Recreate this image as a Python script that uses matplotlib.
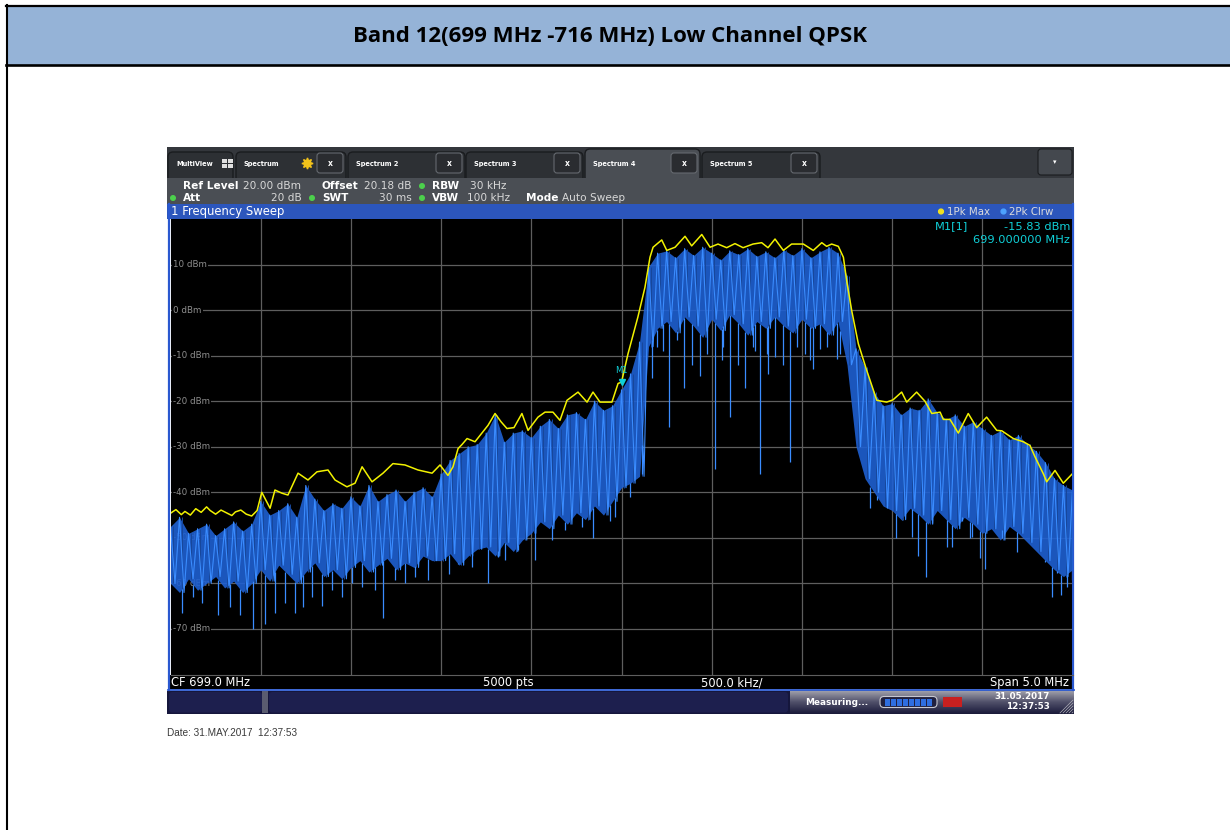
import matplotlib
matplotlib.use("Agg")
import matplotlib.pyplot as plt
from matplotlib.patches import Rectangle, FancyBboxPatch, Circle
import numpy as np

W, H = 1230, 830

# ---------------------------------------------------------------- data
title = "Band 12(699 MHz -716 MHz) Low Channel QPSK"
cf_mhz, span_mhz = 699.0, 5.0
ref_level, bottom_level = 20, -80
level_ticks = [10, 0, -10, -20, -30, -40, -50, -60, -70]
freq_ticks = [697.0, 697.5, 698.0, 698.5, 699.0, 699.5, 700.0, 700.5, 701.0]

marker_freq, marker_level = 699.0, -15.83

# trace 1: 1Pk Max (yellow)
max_freq = [696.50, 696.53, 696.56, 696.58, 696.61, 696.64, 696.67, 696.70, 696.72,
            696.75, 696.78, 696.81, 696.84, 696.86, 696.89, 696.92, 696.95, 696.98,
            697.006, 697.052, 697.079, 697.118, 697.151, 697.207, 697.262, 697.312,
            697.373, 697.412, 697.478, 697.523, 697.562, 697.617, 697.678, 697.733,
            697.800, 697.872, 697.950, 697.994, 698.038, 698.066, 698.094, 698.116,
            698.144, 698.188, 698.216, 698.260, 698.299, 698.332, 698.365, 698.404,
            698.448, 698.482, 698.537, 698.576, 698.620, 698.659, 698.698, 698.759,
            698.809, 698.842, 698.881, 698.947, 698.981, 699.000, 699.036, 699.091,
            699.130, 699.158, 699.175, 699.223, 699.251, 699.297, 699.352, 699.389,
            699.445, 699.491, 699.535, 699.583, 699.629, 699.674, 699.729, 699.777,
            699.812, 699.851, 699.897, 699.943, 700.008, 700.063, 700.110, 700.137,
            700.165, 700.202, 700.230, 700.248, 700.276, 700.313, 700.359, 700.415,
            700.470, 700.505, 700.553, 700.581, 700.636, 700.682, 700.720, 700.766,
            700.784, 700.821, 700.867, 700.922, 700.969, 701.024, 701.080, 701.108,
            701.172, 701.227, 701.264, 701.292, 701.338, 701.357, 701.403, 701.449,
            701.500]
max_level = [-44.6, -43.8, -44.9, -44.2, -45.0, -43.6, -44.4, -43.2, -44.0,
             -44.8, -43.9, -44.5, -45.1, -44.3, -43.9, -44.8, -45.2, -44.0,
             -40.0, -43.5, -39.5, -40.2, -40.6, -35.8, -37.3, -35.5,
             -35.1, -37.3, -38.8, -38.0, -34.4, -37.7, -35.8, -33.7,
             -34.0, -35.1, -35.8, -34.0, -36.3, -34.4, -30.4, -29.5,
             -28.2, -28.9, -27.5, -25.3, -22.7, -24.5, -26.0, -25.8,
             -22.7, -26.4, -23.5, -22.4, -22.4, -24.2, -19.8, -18.0,
             -20.2, -18.0, -20.2, -20.2, -16.1, -15.83, -9.6, -1.5,
             5.0, 11.6, 13.8, 15.4, 13.1, 13.8, 16.2, 14.1,
             16.6, 13.8, 14.5, 13.7, 14.6, 13.7, 14.5, 14.8,
             13.7, 15.6, 13.1, 14.5, 14.5, 13.1, 14.8, 14.0,
             14.5, 14.0, 11.6, 6.5, -0.1, -7.4, -13.2, -19.8,
             -20.2, -19.7, -18.0, -20.2, -18.0, -20.0, -22.7, -22.4,
             -24.0, -24.0, -27.0, -22.7, -25.8, -23.5, -26.4, -26.5,
             -28.2, -28.9, -29.7, -32.2, -35.9, -37.7, -35.2, -38.0,
             -35.9]

# trace 2: 2Pk Clrw (blue), upper / lower edge of the dense trace, every 50 kHz
clrw_hi = [-47.5, -45.5, -49.0, -48.0, -47.0, -49.5, -48.0, -46.5, -48.5, -47.0,
           -42.0, -45.0, -44.0, -42.5, -45.5, -38.5, -41.5, -44.0, -42.5, -43.5,
           -41.0, -43.0, -38.5, -42.0, -40.5, -39.5, -42.0, -40.0, -39.0, -41.0,
           -36.0, -33.0, -31.5, -30.0, -29.5, -27.0, -23.0, -29.0, -27.0, -26.5,
           -28.0, -25.5, -24.0, -26.0, -23.0, -22.5, -24.0, -20.0, -22.0, -21.0,
           -17.5, -14.0, -7.0, 9.5, 12.5, 13.0, 11.5, 13.5, 12.0, 13.8,
           12.5, 11.0, 13.0, 12.2, 13.5, 11.8, 12.8, 11.5, 13.2, 12.0,
           13.5, 11.5, 12.8, 13.8, 12.5, 7.5, -8.5, -12.5, -18.0, -21.0,
           -20.5, -23.0, -21.5, -22.0, -19.5, -22.5, -24.0, -23.0, -25.5, -24.5,
           -26.0, -27.5, -26.5, -28.5, -27.5, -29.5, -31.0, -33.5, -37.0, -38.5,
           -39.5]
clrw_lo = [-60.0, -62.0, -59.0, -61.5, -60.0, -58.5, -61.0, -59.5, -62.0, -60.0,
           -57.0, -59.5, -56.0, -58.0, -60.0, -57.5, -55.5, -58.5, -57.0, -59.0,
           -56.5, -55.0, -57.5, -56.0, -54.5, -57.0, -55.5, -56.5, -54.0, -55.0,
           -55.0, -53.5, -56.0, -54.0, -52.5, -52.0, -54.0, -51.0, -53.0, -50.5,
           -49.0, -46.5, -48.0, -45.0, -47.0, -44.5, -46.0, -43.0, -45.0, -42.0,
           -39.0, -38.0, -36.5, -8.0, -4.0, -2.5, -5.0, -1.5, -3.5, -6.0,
           -2.0, -4.5, -1.0, -3.0, -5.5, -2.5, -4.0, -1.5, -3.5, -5.0,
           -2.0, -4.0, -3.0, -5.5, -2.5, -12.0, -30.0, -37.0, -40.0, -43.0,
           -44.0, -46.0, -43.5, -45.0, -47.0, -44.0, -46.0, -48.0, -45.5, -47.0,
           -49.0, -48.0, -50.5, -47.5, -49.0, -51.0, -53.0, -55.0, -57.0, -58.5,
           -57.0]

# single drop-outs of the Clrw trace below its dense band
dip_freq = [696.564, 696.626, 696.673, 696.765, 696.830, 696.885, 696.959, 697.024,
            697.079, 697.135, 697.190, 697.236, 697.283, 697.340, 697.394, 697.449,
            697.504, 697.560, 697.634, 697.680, 697.744, 697.800, 697.855, 697.929,
            698.044, 698.095, 698.170, 698.260, 698.317, 698.354, 698.428, 698.521,
            698.613, 698.687, 698.779, 698.842, 698.909, 698.936, 698.964, 699.047,
            699.112, 699.169, 699.195, 699.230, 699.263, 699.306, 699.346, 699.391,
            699.435, 699.472, 699.518, 699.555, 699.563, 699.601, 699.646, 699.685,
            699.731, 699.740, 699.768, 699.805, 699.812, 699.851, 699.895, 699.934,
            699.973, 700.017, 700.045, 700.062, 700.100, 700.137, 700.194, 700.211,
            700.380, 700.415, 700.470, 700.519, 700.553, 700.609, 700.644, 700.688,
            700.720, 700.804, 700.830, 700.886, 700.932, 700.941, 700.987, 701.015,
            701.108, 701.191, 701.237, 701.292, 701.348, 701.385, 701.412, 701.435,
            701.468, 701.495]
dip_level = [-66.5, -62.9, -64.4, -67.0, -65.1, -67.0, -70.0, -69.0,
             -66.6, -64.4, -66.6, -65.1, -62.9, -65.0, -61.5, -62.9,
             -60.0, -60.7, -61.5, -67.5, -59.3, -60.0, -58.6, -59.3,
             -58.0, -55.6, -56.4, -60.0, -54.2, -54.9, -52.7, -54.9,
             -50.5, -48.3, -47.6, -50.0, -44.6, -46.3, -45.4, -41.0,
             -36.0, -15.0, -8.1, -9.0, -25.6, -6.6, -17.0, -12.0,
             -14.4, -9.6, -34.8, -11.0, -8.0, -23.5, -12.0, -17.2,
             -8.1, -9.0, -36.0, -9.6, -14.0, -10.3, -12.0, -33.3,
             -8.0, -9.6, -11.0, -13.0, -8.5, -8.1, -10.7, -9.6,
             -43.5, -41.7, -42.5, -50.0, -46.1, -49.8, -54.0, -58.6,
             -46.8, -52.0, -52.0, -45.4, -50.0, -49.8, -54.5, -56.8,
             -48.3, -53.0, -50.5, -52.7, -55.3, -63.0, -57.8, -62.5,
             -60.7, -59.3]

tabs = ["MultiView", "Spectrum", "Spectrum 2", "Spectrum 3", "Spectrum 4", "Spectrum 5"]
tab_edges = [(168, 233), (236, 346), (348, 465), (466, 583), (585, 700), (702, 820)]

# ---------------------------------------------------------------- colours
HEAD_BLUE = "#95b3d7"
TAB_BG, TAB_FILL, INFO_BG = "#34373c", "#2d3034", "#4a4e54"
BAR_BLUE, FRAME_BLUE = "#2c56bc", "#2a58d0"
GRID = "#5e5e5e"
YELLOW, BLUE_HI, BLUE_FILL, BLUE_DARK = "#f2f200", "#3a8cff", "#1f60d2", "#17479a"
CYAN = "#10d0d8"
NAVY = "#15163c"

fig = plt.figure(figsize=(W / 100, H / 100), dpi=100)
ui = fig.add_axes([0, 0, 1, 1])
ui.set_xlim(0, W)
ui.set_ylim(H, 0)
ui.axis("off")


def frac(x0, y0, x1, y1):
    return [x0 / W, 1 - y1 / H, (x1 - x0) / W, (y1 - y0) / H]


def rect(x0, y0, x1, y1, **kw):
    ui.add_patch(Rectangle((x0, y0), x1 - x0, y1 - y0, **kw))


def rbox(x0, y0, x1, y1, r=3, **kw):
    ui.add_patch(FancyBboxPatch((x0, y0), x1 - x0, y1 - y0,
                                boxstyle=f"round,pad=0,rounding_size={r}", **kw))


# ---------------------------------------------------------------- page / header
rect(6.5, 5.8, W + 2, 65, facecolor=HEAD_BLUE, edgecolor="none")
ui.plot([5.5, W], [5.8, 5.8], color="black", lw=1.6)
ui.plot([5.5, W], [65, 65], color="black", lw=1.9)
ui.plot([6.5, 6.5], [5, H], color="black", lw=1.5)
ui.text(610, 36.5, title, ha="center", va="center", fontsize=16,
        fontweight="bold", family="Open Sans", color="black")

# ---------------------------------------------------------------- tab bar
rect(167, 147, 1074, 178, facecolor=TAB_BG, edgecolor="none")
for i, (name, (x0, x1)) in enumerate(zip(tabs, tab_edges)):
    sel = name == "Spectrum 4"
    y0 = 149 if sel else 152
    rbox(x0, y0, x1, 182, r=5, facecolor=INFO_BG if sel else TAB_FILL,
         edgecolor="#1a1c1f", lw=1.0)
    ui.text(x0 + 8, 164, name, fontsize=4.8, fontweight="bold", color="white",
            va="center", ha="left")
    if i == 0:
        for dx in (0, 6):
            for dy in (0, 5):
                rect(222 + dx, 159 + dy, 227 + dx, 163 + dy, facecolor="#e0e0e0",
                     edgecolor="none")
    else:
        rbox(x1 - 29, 153, x1 - 3, 173, r=3, facecolor="#2a2c30",
             edgecolor="#65696f", lw=0.8)
        ui.text(x1 - 16, 163.5, "x", fontsize=5.5, fontweight="bold", color="white",
                ha="center", va="center")
    if name == "Spectrum":
        ui.plot(306.5, 163, marker=(8, 1, 0), ms=8, color="#f2c21a", mec="#f2c21a")
rect(167, 178, 1074, 204, facecolor=INFO_BG, edgecolor="none")
rbox(1038, 149, 1072, 175, r=3, facecolor="#44484e", edgecolor="#1a1c1f", lw=0.8)
ui.text(1055, 162, "\u25be", fontsize=5, color="white", ha="center", va="center")

# ---------------------------------------------------------------- settings text
bold = dict(fontsize=7.6, fontweight="bold", color="white", va="center")
value = dict(fontsize=7.6, color="#d8d8d8", va="center")
ui.text(183, 186, "Ref Level", **bold)
ui.text(243, 186, "20.00 dBm", **value)
ui.text(321, 186, "Offset", **bold)
ui.text(364, 186, "20.18 dB", **value)
ui.text(432, 186, "RBW", **bold)
ui.text(470, 186, "30 kHz", **value)
ui.text(183, 198, "Att", **bold)
ui.text(302, 198, "20 dB", ha="right", **value)
ui.text(322, 198, "SWT", **bold)
ui.text(412, 198, "30 ms", ha="right", **value)
ui.text(432, 198, "VBW", **bold)
ui.text(467, 198, "100 kHz", **value)
ui.text(526, 198, "Mode", **bold)
ui.text(562, 198, "Auto Sweep", **value)
for gx, gy in [(422, 186), (173, 198), (312, 198), (422, 198)]:
    ui.add_patch(Circle((gx, gy), 2.3, color="#4cd04c"))

# ---------------------------------------------------------------- sweep window
rect(167, 204, 1074, 218.5, facecolor=BAR_BLUE, edgecolor="none")
ui.text(171, 211.5, "1 Frequency Sweep", fontsize=8.4, color="white", va="center")
ui.add_patch(Circle((941, 211.5), 2.4, color="#f0e020"))
ui.text(947, 211.5, "1Pk Max", fontsize=7.4, color="#dcdcdc", va="center")
ui.add_patch(Circle((1003.5, 211.5), 2.4, color="#4da2ff"))
ui.text(1009, 211.5, "2Pk Clrw", fontsize=7.4, color="#dcdcdc", va="center")
rect(168, 675, 1073, 689, facecolor="black", edgecolor="none")
ui.plot([168.5, 168.5], [204, 690], color=FRAME_BLUE, lw=1.6)
ui.plot([1073, 1073], [204, 690], color=FRAME_BLUE, lw=1.6)
ui.plot([168, 1074], [689.5, 689.5], color=FRAME_BLUE, lw=1.3)
foot = dict(fontsize=8.3, color="white", va="center")
ui.text(171, 682.5, f"CF {cf_mhz:.1f} MHz", **foot)
ui.text(508, 682.5, "5000 pts", ha="center", **foot)
ui.text(732, 682.5, f"{(freq_ticks[1] - freq_ticks[0]) * 1000:.1f} kHz/",
        ha="center", **foot)
ui.text(1069, 682.5, f"Span {span_mhz:.1f} MHz", ha="right", **foot)

# ---------------------------------------------------------------- status bar
rect(167, 690.5, 1074, 714, facecolor=NAVY, edgecolor="none")
rbox(169, 692, 262, 712.5, r=3, facecolor="#1d1f4e", edgecolor="none")
rect(262, 691, 268, 713, facecolor="#5a5c70", edgecolor="none")
rbox(269, 692, 788, 712.5, r=3, facecolor="#1d1f4e", edgecolor="none")
grad = np.linspace(0, 1, 40)[:, None]
ui.imshow(grad, extent=(790, 1074, 714, 690.5), cmap=matplotlib.colors.LinearSegmentedColormap
          .from_list("bar", ["#a4a4ae", "#50506a", "#1a1a3a"]), aspect="auto", zorder=1)
ui.text(805, 702, "Measuring...", fontsize=6.4, fontweight="bold", color="white",
        va="center", zorder=3)
rbox(880, 696.5, 937, 707.5, r=4, facecolor="#202040", edgecolor="#c8c8d0", lw=0.8,
     zorder=3)
for k in range(8):
    rect(885 + k * 6, 698.5, 889.5 + k * 6, 705.5, facecolor="#2f6ee0",
         edgecolor="none", zorder=4)
rect(943, 697, 962, 707, facecolor="#c82020", edgecolor="none", zorder=3)
ui.text(1050, 696.5, "31.05.2017", fontsize=6.3, fontweight="bold", color="white",
        ha="right", va="center", zorder=3)
ui.text(1050, 706.5, "12:37:53", fontsize=6.3, fontweight="bold", color="white",
        ha="right", va="center", zorder=3)
for k in range(5):
    ui.plot([1060 + k * 3, 1073], [713, 700 + k * 3], color="#b0b0b8", lw=0.5, zorder=3)

ui.text(167, 733, "Date: 31.MAY.2017  12:37:53", fontsize=7.2, family="Liberation Sans",
        color="#3a3a3a", va="center")

# ---------------------------------------------------------------- trace diagram
ax = fig.add_axes(frac(170.5, 219, 1072.5, 674.5), zorder=2)
ax.set_facecolor("black")
ax.set_xlim(cf_mhz - span_mhz / 2, cf_mhz + span_mhz / 2)
ax.set_ylim(bottom_level, ref_level)
ax.set_xticks(freq_ticks)
ax.set_yticks(level_ticks)
ax.tick_params(length=0, labelleft=False, labelbottom=False)
ax.grid(True, color=GRID, lw=0.9)
ax.set_axisbelow(True)
for side, sp in ax.spines.items():
    sp.set_visible(side == "bottom")
    sp.set_color(GRID)

for lv in level_ticks:
    ax.text(ax.get_xlim()[0] + 0.015, lv, f"{lv} dBm", fontsize=6.3, color="#8e8e8e",
            va="center", ha="left", zorder=1.5,
            bbox=dict(facecolor="black", edgecolor="none", pad=0.8))

n = len(clrw_hi)
cf = np.linspace(cf_mhz - span_mhz / 2, cf_mhz + span_mhz / 2, n)
half = (cf[1] - cf[0]) / 2
hi, lo = np.array(clrw_hi), np.array(clrw_lo)
ax.fill_between(cf, lo, hi, color=BLUE_FILL, lw=0, alpha=0.9, zorder=2)
ax.vlines(cf + half / 2, lo, hi, color=BLUE_DARK, lw=0.7, zorder=2.1)
zx = np.empty(2 * n)
zy = np.empty(2 * n)
zx[0::2], zx[1::2] = cf, cf + half
zy[0::2], zy[1::2] = hi, lo
ax.plot(zx, zy, color=BLUE_HI, lw=0.8, zorder=2.2)
ax.vlines(dip_freq, dip_level, np.interp(dip_freq, cf, lo), color=BLUE_HI, lw=0.9,
          zorder=2.2)

ax.plot(max_freq, max_level, color=YELLOW, lw=1.1, zorder=3)

ax.plot(marker_freq, marker_level, marker="v", ms=5, color=CYAN, zorder=4)
ax.text(marker_freq, marker_level + 1.6, "M1", fontsize=6, color=CYAN,
        ha="center", va="bottom", zorder=4)
mk = dict(fontsize=8.2, color=CYAN, va="center", transform=ui.transData, zorder=5)
ax.text(935, 226.5, "M1[1]", ha="left", **mk)
ax.text(1070, 226.5, f"{marker_level:.2f} dBm", ha="right", **mk)
ax.text(1070, 240, f"{marker_freq:.6f} MHz", ha="right", **mk)

fig.savefig("out.png", dpi=100, facecolor="white")
